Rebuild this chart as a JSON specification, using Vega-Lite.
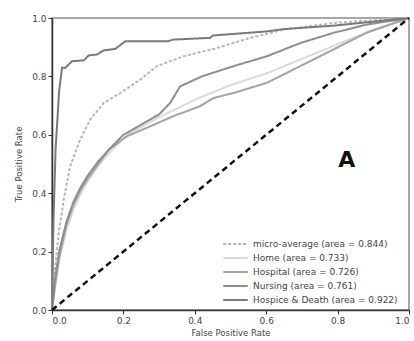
{
  "$schema": "https://vega.github.io/schema/vega-lite/v6.json",
  "autosize": "none",
  "width": 357,
  "height": 292,
  "padding": {"left": 52, "top": 18, "right": 5, "bottom": 31},
  "background": "white",
  "config": {
    "view": {"stroke": "#8a8a8a", "strokeWidth": 1.5},
    "font": "DejaVu Sans",
    "axis": {
      "domainColor": "#333", "domainWidth": 1.5, "tickColor": "#333", "tickSize": 4,
      "labelColor": "#444", "labelFontSize": 9, "titleColor": "#444", "titleFontSize": 8.5,
      "titleFontWeight": "normal", "grid": false
    }
  },
  "layer": [
    {
      "data": {"values": [
        {"series": "micro-average (area = 0.844)", "idx": 0, "fpr": 0, "tpr": 0},
        {"series": "micro-average (area = 0.844)", "idx": 1, "fpr": 0.009, "tpr": 0.15},
        {"series": "micro-average (area = 0.844)", "idx": 2, "fpr": 0.019, "tpr": 0.265},
        {"series": "micro-average (area = 0.844)", "idx": 3, "fpr": 0.033, "tpr": 0.379},
        {"series": "micro-average (area = 0.844)", "idx": 4, "fpr": 0.051, "tpr": 0.493},
        {"series": "micro-average (area = 0.844)", "idx": 5, "fpr": 0.079, "tpr": 0.584},
        {"series": "micro-average (area = 0.844)", "idx": 6, "fpr": 0.107, "tpr": 0.652},
        {"series": "micro-average (area = 0.844)", "idx": 7, "fpr": 0.145, "tpr": 0.709},
        {"series": "micro-average (area = 0.844)", "idx": 8, "fpr": 0.191, "tpr": 0.743},
        {"series": "micro-average (area = 0.844)", "idx": 9, "fpr": 0.247, "tpr": 0.789},
        {"series": "micro-average (area = 0.844)", "idx": 10, "fpr": 0.294, "tpr": 0.835},
        {"series": "micro-average (area = 0.844)", "idx": 11, "fpr": 0.368, "tpr": 0.869},
        {"series": "micro-average (area = 0.844)", "idx": 12, "fpr": 0.462, "tpr": 0.897},
        {"series": "micro-average (area = 0.844)", "idx": 13, "fpr": 0.555, "tpr": 0.932},
        {"series": "micro-average (area = 0.844)", "idx": 14, "fpr": 0.648, "tpr": 0.96},
        {"series": "micro-average (area = 0.844)", "idx": 15, "fpr": 0.788, "tpr": 0.983},
        {"series": "micro-average (area = 0.844)", "idx": 16, "fpr": 1, "tpr": 1},

        {"series": "Home (area = 0.733)", "idx": 0, "fpr": 0, "tpr": 0},
        {"series": "Home (area = 0.733)", "idx": 1, "fpr": 0.012, "tpr": 0.1},
        {"series": "Home (area = 0.733)", "idx": 2, "fpr": 0.022, "tpr": 0.18},
        {"series": "Home (area = 0.733)", "idx": 3, "fpr": 0.042, "tpr": 0.28},
        {"series": "Home (area = 0.733)", "idx": 4, "fpr": 0.062, "tpr": 0.35},
        {"series": "Home (area = 0.733)", "idx": 5, "fpr": 0.085, "tpr": 0.41},
        {"series": "Home (area = 0.733)", "idx": 6, "fpr": 0.11, "tpr": 0.46},
        {"series": "Home (area = 0.733)", "idx": 7, "fpr": 0.14, "tpr": 0.51},
        {"series": "Home (area = 0.733)", "idx": 8, "fpr": 0.17, "tpr": 0.55},
        {"series": "Home (area = 0.733)", "idx": 9, "fpr": 0.21, "tpr": 0.6},
        {"series": "Home (area = 0.733)", "idx": 10, "fpr": 0.3, "tpr": 0.66},
        {"series": "Home (area = 0.733)", "idx": 11, "fpr": 0.4, "tpr": 0.72},
        {"series": "Home (area = 0.733)", "idx": 12, "fpr": 0.5, "tpr": 0.77},
        {"series": "Home (area = 0.733)", "idx": 13, "fpr": 0.6, "tpr": 0.81},
        {"series": "Home (area = 0.733)", "idx": 14, "fpr": 0.7, "tpr": 0.86},
        {"series": "Home (area = 0.733)", "idx": 15, "fpr": 0.8, "tpr": 0.91},
        {"series": "Home (area = 0.733)", "idx": 16, "fpr": 0.9, "tpr": 0.96},
        {"series": "Home (area = 0.733)", "idx": 17, "fpr": 1, "tpr": 1},

        {"series": "Hospital (area = 0.726)", "idx": 0, "fpr": 0, "tpr": 0},
        {"series": "Hospital (area = 0.726)", "idx": 1, "fpr": 0.01, "tpr": 0.1},
        {"series": "Hospital (area = 0.726)", "idx": 2, "fpr": 0.02, "tpr": 0.18},
        {"series": "Hospital (area = 0.726)", "idx": 3, "fpr": 0.04, "tpr": 0.29},
        {"series": "Hospital (area = 0.726)", "idx": 4, "fpr": 0.06, "tpr": 0.36},
        {"series": "Hospital (area = 0.726)", "idx": 5, "fpr": 0.08, "tpr": 0.41},
        {"series": "Hospital (area = 0.726)", "idx": 6, "fpr": 0.1, "tpr": 0.45},
        {"series": "Hospital (area = 0.726)", "idx": 7, "fpr": 0.13, "tpr": 0.5},
        {"series": "Hospital (area = 0.726)", "idx": 8, "fpr": 0.16, "tpr": 0.55},
        {"series": "Hospital (area = 0.726)", "idx": 9, "fpr": 0.21, "tpr": 0.595},
        {"series": "Hospital (area = 0.726)", "idx": 10, "fpr": 0.275, "tpr": 0.629},
        {"series": "Hospital (area = 0.726)", "idx": 11, "fpr": 0.34, "tpr": 0.664},
        {"series": "Hospital (area = 0.726)", "idx": 12, "fpr": 0.415, "tpr": 0.698},
        {"series": "Hospital (area = 0.726)", "idx": 13, "fpr": 0.452, "tpr": 0.726},
        {"series": "Hospital (area = 0.726)", "idx": 14, "fpr": 0.508, "tpr": 0.743},
        {"series": "Hospital (area = 0.726)", "idx": 15, "fpr": 0.602, "tpr": 0.778},
        {"series": "Hospital (area = 0.726)", "idx": 16, "fpr": 0.695, "tpr": 0.835},
        {"series": "Hospital (area = 0.726)", "idx": 17, "fpr": 0.788, "tpr": 0.892},
        {"series": "Hospital (area = 0.726)", "idx": 18, "fpr": 0.88, "tpr": 0.949},
        {"series": "Hospital (area = 0.726)", "idx": 19, "fpr": 1, "tpr": 1},

        {"series": "Nursing (area = 0.761)", "idx": 0, "fpr": 0, "tpr": 0},
        {"series": "Nursing (area = 0.761)", "idx": 1, "fpr": 0.01, "tpr": 0.12},
        {"series": "Nursing (area = 0.761)", "idx": 2, "fpr": 0.02, "tpr": 0.2},
        {"series": "Nursing (area = 0.761)", "idx": 3, "fpr": 0.04, "tpr": 0.3},
        {"series": "Nursing (area = 0.761)", "idx": 4, "fpr": 0.06, "tpr": 0.37},
        {"series": "Nursing (area = 0.761)", "idx": 5, "fpr": 0.08, "tpr": 0.42},
        {"series": "Nursing (area = 0.761)", "idx": 6, "fpr": 0.1, "tpr": 0.46},
        {"series": "Nursing (area = 0.761)", "idx": 7, "fpr": 0.13, "tpr": 0.51},
        {"series": "Nursing (area = 0.761)", "idx": 8, "fpr": 0.16, "tpr": 0.55},
        {"series": "Nursing (area = 0.761)", "idx": 9, "fpr": 0.2, "tpr": 0.6},
        {"series": "Nursing (area = 0.761)", "idx": 10, "fpr": 0.25, "tpr": 0.635},
        {"series": "Nursing (area = 0.761)", "idx": 11, "fpr": 0.3, "tpr": 0.67},
        {"series": "Nursing (area = 0.761)", "idx": 12, "fpr": 0.331, "tpr": 0.709},
        {"series": "Nursing (area = 0.761)", "idx": 13, "fpr": 0.359, "tpr": 0.766},
        {"series": "Nursing (area = 0.761)", "idx": 14, "fpr": 0.42, "tpr": 0.8},
        {"series": "Nursing (area = 0.761)", "idx": 15, "fpr": 0.508, "tpr": 0.835},
        {"series": "Nursing (area = 0.761)", "idx": 16, "fpr": 0.602, "tpr": 0.869},
        {"series": "Nursing (area = 0.761)", "idx": 17, "fpr": 0.695, "tpr": 0.914},
        {"series": "Nursing (area = 0.761)", "idx": 18, "fpr": 0.788, "tpr": 0.949},
        {"series": "Nursing (area = 0.761)", "idx": 19, "fpr": 0.88, "tpr": 0.977},
        {"series": "Nursing (area = 0.761)", "idx": 20, "fpr": 1, "tpr": 1},

        {"series": "Hospice & Death (area = 0.922)", "idx": 0, "fpr": 0, "tpr": 0},
        {"series": "Hospice & Death (area = 0.922)", "idx": 1, "fpr": 0.004, "tpr": 0.3},
        {"series": "Hospice & Death (area = 0.922)", "idx": 2, "fpr": 0.01, "tpr": 0.55},
        {"series": "Hospice & Death (area = 0.922)", "idx": 3, "fpr": 0.02, "tpr": 0.75},
        {"series": "Hospice & Death (area = 0.922)", "idx": 4, "fpr": 0.028, "tpr": 0.83},
        {"series": "Hospice & Death (area = 0.922)", "idx": 5, "fpr": 0.037, "tpr": 0.829},
        {"series": "Hospice & Death (area = 0.922)", "idx": 6, "fpr": 0.056, "tpr": 0.852},
        {"series": "Hospice & Death (area = 0.922)", "idx": 7, "fpr": 0.089, "tpr": 0.855},
        {"series": "Hospice & Death (area = 0.922)", "idx": 8, "fpr": 0.103, "tpr": 0.872},
        {"series": "Hospice & Death (area = 0.922)", "idx": 9, "fpr": 0.126, "tpr": 0.875},
        {"series": "Hospice & Death (area = 0.922)", "idx": 10, "fpr": 0.145, "tpr": 0.889},
        {"series": "Hospice & Death (area = 0.922)", "idx": 11, "fpr": 0.177, "tpr": 0.894},
        {"series": "Hospice & Death (area = 0.922)", "idx": 12, "fpr": 0.205, "tpr": 0.92},
        {"series": "Hospice & Death (area = 0.922)", "idx": 13, "fpr": 0.322, "tpr": 0.92},
        {"series": "Hospice & Death (area = 0.922)", "idx": 14, "fpr": 0.34, "tpr": 0.926},
        {"series": "Hospice & Death (area = 0.922)", "idx": 15, "fpr": 0.443, "tpr": 0.932},
        {"series": "Hospice & Death (area = 0.922)", "idx": 16, "fpr": 0.45, "tpr": 0.94},
        {"series": "Hospice & Death (area = 0.922)", "idx": 17, "fpr": 0.6, "tpr": 0.954},
        {"series": "Hospice & Death (area = 0.922)", "idx": 18, "fpr": 0.65, "tpr": 0.962},
        {"series": "Hospice & Death (area = 0.922)", "idx": 19, "fpr": 0.79, "tpr": 0.974},
        {"series": "Hospice & Death (area = 0.922)", "idx": 20, "fpr": 0.88, "tpr": 0.985},
        {"series": "Hospice & Death (area = 0.922)", "idx": 21, "fpr": 1, "tpr": 1}
      ]},
      "mark": {"type": "line", "strokeWidth": 2, "clip": true},
      "encoding": {
        "x": {"field": "fpr", "type": "quantitative", "scale": {"domain": [0, 1], "nice": false},
              "axis": {"values": [0, 0.2, 0.4, 0.6, 0.8, 1], "format": ".1f", "title": "False Positive Rate", "titlePadding": 3}},
        "y": {"field": "tpr", "type": "quantitative", "scale": {"domain": [0, 1], "nice": false},
              "axis": {"values": [0, 0.2, 0.4, 0.6, 0.8, 1], "format": ".1f", "title": "True Positive Rate", "titlePadding": 8}},
        "order": {"field": "idx", "type": "quantitative"},
        "color": {"field": "series", "type": "nominal",
          "scale": {"domain": ["micro-average (area = 0.844)", "Home (area = 0.733)", "Hospital (area = 0.726)", "Nursing (area = 0.761)", "Hospice & Death (area = 0.922)"],
                    "range": ["#b5b5b5", "#dadada", "#a3a3a3", "#8e8e8e", "#7a7a7a"]},
          "legend": {"title": null, "orient": "none", "legendX": 166, "legendY": 215, "symbolType": "stroke",
                     "symbolSize": 600, "symbolStrokeWidth": 2, "clipHeight": 14, "rowPadding": 0,
                     "labelFontSize": 9, "labelColor": "#444", "labelOffset": 4, "padding": 4}},
        "strokeDash": {"field": "series", "type": "nominal",
          "scale": {"domain": ["micro-average (area = 0.844)", "Home (area = 0.733)", "Hospital (area = 0.726)", "Nursing (area = 0.761)", "Hospice & Death (area = 0.922)"],
                    "range": [[3, 2], [1, 0], [1, 0], [1, 0], [1, 0]]},
          "legend": {"title": null, "orient": "none", "legendX": 166, "legendY": 215, "symbolType": "stroke",
                     "symbolSize": 600, "symbolStrokeWidth": 2, "clipHeight": 14, "rowPadding": 0,
                     "labelFontSize": 9, "labelColor": "#444", "labelOffset": 4, "padding": 4}}
      }
    },
    {
      "data": {"values": [{"fpr": 0, "tpr": 0}, {"fpr": 1, "tpr": 1}]},
      "mark": {"type": "line", "color": "#111", "strokeWidth": 2.5, "strokeDash": [6, 4]},
      "encoding": {
        "x": {"field": "fpr", "type": "quantitative"},
        "y": {"field": "tpr", "type": "quantitative"}
      }
    },
    {
      "data": {"values": [{"fpr": 0.826, "tpr": 0.515, "label": "A"}]},
      "mark": {"type": "text", "fontSize": 22, "fontWeight": "bold", "color": "#111", "font": "DejaVu Sans"},
      "encoding": {
        "x": {"field": "fpr", "type": "quantitative"},
        "y": {"field": "tpr", "type": "quantitative"},
        "text": {"field": "label"}
      }
    }
  ]
}
